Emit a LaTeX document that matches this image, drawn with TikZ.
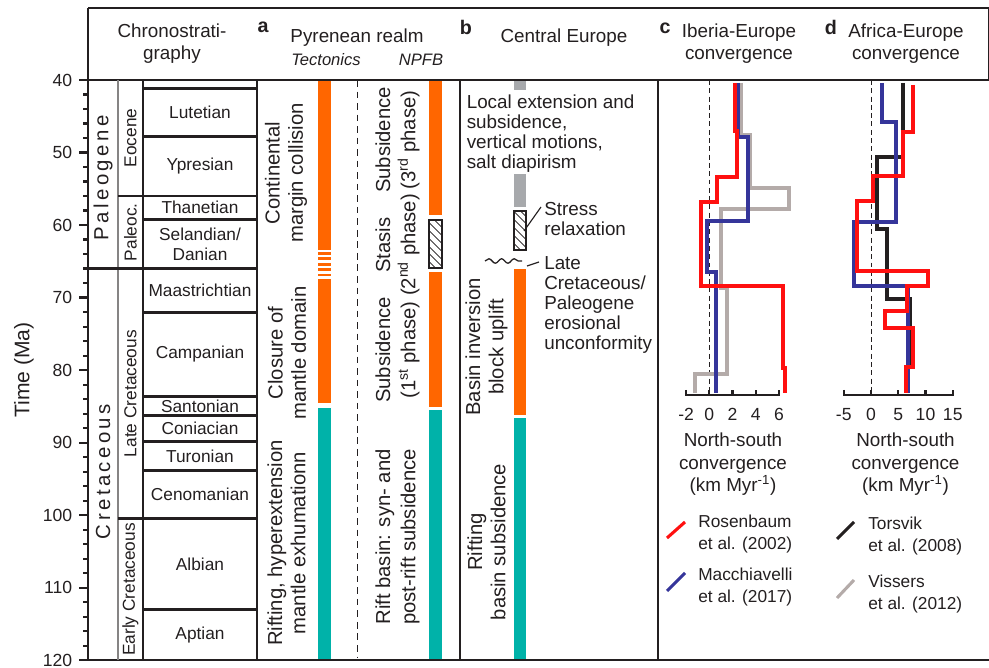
\documentclass[tikz,border=0pt]{standalone}
\usepackage{fontspec}
\setmainfont{Liberation Sans}
\usetikzlibrary{patterns.meta,decorations.pathmorphing}

\definecolor{tecorange}{HTML}{FF6600}
\definecolor{riftteal}{HTML}{00B2A9}
\definecolor{localgray}{HTML}{A7A9AC}
\definecolor{ink}{HTML}{231F20}
\definecolor{rosred}{HTML}{FF1010}
\definecolor{macblue}{HTML}{35359A}
\definecolor{visgray}{HTML}{B4ABA9}

\begin{document}
\begin{tikzpicture}[x=0.025cm,y=-0.025cm,
    every node/.style={text=ink,inner sep=0pt},
    frame/.style={draw=ink,line width=2pt},
    divider/.style={draw=ink!55,line width=1pt},
    zero/.style={draw=ink,line width=0.7pt,dash pattern=on 3.5pt off 2.4pt},
    curve/.style={line width=2.2pt},
    hatchbox/.style={draw=ink,line width=0.8pt,pattern color=ink,
      pattern={Lines[angle=-45,distance=4pt,line width=0.6pt]}},
    hdr/.style={font=\fontsize{13.4}{15.6}\selectfont,align=center},
    sub/.style={font=\fontsize{11.8}{14}\selectfont\itshape},
    panel/.style={font=\fontsize{14}{16}\selectfont\bfseries},
    stage/.style={font=\fontsize{12.3}{14.2}\selectfont,align=center},
    epoch/.style={font=\fontsize{12.3}{14.2}\selectfont,rotate=90},
    period/.style={font=\fontsize{14.5}{16}\selectfont,rotate=90},
    rot/.style={font=\fontsize{14.4}{16.4}\selectfont,align=center,rotate=90},
    rotwide/.style={rot,font=\fontsize{14.4}{17.8}\selectfont},
    note/.style={font=\fontsize{13.4}{14.2}\selectfont,align=left,anchor=north west},
    lgd/.style={font=\fontsize{12.3}{15.4}\selectfont,align=left,anchor=north west},
    tick/.style={font=\fontsize{12.5}{14}\selectfont}]

  \useasboundingbox (0,0) rectangle (989,668);

  \fill[tecorange] (318,80) rectangle (331,250);
  \foreach \a/\b in {252/255,257.5/260.5,263/266,268.5/271.5,274/276.5}
    \fill[tecorange] (318,\a) rectangle (331,\b);
  \fill[tecorange] (318,279) rectangle (331,403);
  \fill[riftteal] (318,408) rectangle (331,660);
  \draw[zero,dash pattern=on 4.7pt off 3.5pt] (357,80) -- (357,657);

  \fill[tecorange] (429,80) rectangle (442,215);
  \draw[hatchbox] (429,220) rectangle (442,268);
  \fill[tecorange] (429,272) rectangle (442,407);
  \fill[riftteal] (429,410) rectangle (442,660);

  \fill[localgray] (514,80) rectangle (526,90);
  \fill[localgray] (514,174) rectangle (526,207);
  \draw[hatchbox] (514,211) rectangle (526,250);
  \fill[tecorange] (514,269) rectangle (526,415);
  \fill[riftteal] (514,418) rectangle (526,660);

  \draw[ink,line width=1.3pt] (88,8) -- (988.5,8) -- (988.5,80);
  \draw[frame] (88,8) -- (88,660);
  \draw[frame] (88,80) -- (989,80);
  \draw[frame] (88,660) -- (989,660);
  \foreach \x in {143,257,460,658} \draw[frame] (\x,80) -- (\x,660);
  \draw[divider] (118,80) -- (118,660);

  \begin{scope}[y=-0.18125cm,yshift=5.25cm]
    \foreach \t in {42,44,...,118} \draw[ink,line width=1.5pt] (83,\t) -- (88,\t);
    \foreach \t in {40,50,...,120} {
      \draw[ink,line width=1.5pt] (79,\t) -- (88,\t);
      \node[tick,anchor=east] (ma\t) at (72.5,\t) {\t};
    }
    \foreach \t in {41.2,47.8,59.2,72.1,83.6,86.3,89.8,93.9,113}
      \draw[frame] (143,\t) -- (257,\t);
    \foreach \t in {56,100.5} \draw[frame] (118,\t) -- (257,\t);
    \draw[frame] (88,66) -- (257,66);
    \foreach \name/\t/\txt in {lutetian/44.5/Lutetian, ypresian/51.9/Ypresian,
        thanetian/57.6/Thanetian, maastrichtian/69.05/Maastrichtian,
        campanian/77.85/Campanian, santonian/84.95/Santonian,
        coniacian/88.05/Coniacian, turonian/91.85/Turonian,
        cenomanian/97.2/Cenomanian, albian/106.75/Albian, aptian/116.5/Aptian}
      \node[stage] (\name) at (200,\t) {\txt};
    \node[stage] (danian) at (200,62.6) {Selandian/\\Danian};
    \node[epoch] (eocene) at (130.5,48) {Eocene};
    \node[epoch] (paleocene) at (130.5,61) {Paleoc.};
    \node[epoch] (latecret) at (130.5,83.25) {Late Cretaceous};
    \node[epoch] (earlycret) at (130.5,110.25) {Early Cretaceous};
    \node[period] (paleogene) at (103,53.5) {P\,a\,l\,e\,o\,g\,e\,n\,e};
    \node[period] (cretaceous) at (103,94) {C\,r\,e\,t\,a\,c\,e\,o\,u\,s};
  \end{scope}
  \node[rot,font=\fontsize{15}{17}\selectfont] (timeaxis) at (24,370) {Time (Ma)};

  \node[hdr] (chrono) at (172,44) {Chronostrati-\\graphy};
  \node[panel] (pa) at (263,27) {a};
  \node[hdr] (pyrenees) at (357,38) {Pyrenean realm};
  \node[sub] (tectonics) at (326,60) {Tectonics};
  \node[sub] (npfb) at (421,60) {NPFB};
  \node[panel] (pb) at (466,27) {b};
  \node[hdr] (centraleu) at (564,38) {Central Europe};
  \node[panel] (pc) at (665,28) {c};
  \node[hdr] (iberia) at (739,44) {Iberia-Europe\\convergence};
  \node[panel] (pd) at (831,27) {d};
  \node[hdr] (africa) at (906,44) {Africa-Europe\\convergence};

  \node[rot] (collision) at (286,173) {Continental\\margin collision};
  \node[rot] (closure) at (287,353) {Closure of\\mantle domain};
  \node[rot] (hyperext) at (286.5,543) {Rifting, hyperextension\\mantle exhumationn};
  \node[rotwide] (subthree) at (397.5,140) {Subsidence\\(3\textsuperscript{rd} phase)};
  \node[rotwide] (stasis) at (397.5,245) {Stasis\\(2\textsuperscript{nd} phase)};
  \node[rotwide] (subone) at (397.5,350) {Subsidence\\(1\textsuperscript{st} phase)};
  \node[rotwide] (riftbasin) at (397.5,537) {Rift basin: syn- and\\post-rift subsidence};
  \node[rot] (inversion) at (486.5,347) {Basin inversion\\block uplift};
  \node[rot] (basinsub) at (486.5,542) {Rifting\\basin subsidence};

  \node[note] (localext) at (466.5,95) {Local extension and\\subsidence,\\vertical motions,\\salt diapirism};
  \node[note] (stress) at (544,202) {Stress\\relaxation};
  \node[note] (unconf) at (544,256) {Late\\Cretaceous/\\Paleogene\\erosional\\unconformity};
  \coordinate (hatchtip) at (524,231);
  \coordinate (stresstip) at (541,207);
  \draw[ink,line width=0.8pt] (hatchtip) -- (stresstip);
  \coordinate (wavea) at (485,261);
  \coordinate (waveb) at (522,261);
  \draw[ink,line width=0.9pt,decorate,decoration={snake,amplitude=1.6pt,segment length=9pt}] (wavea) -- (waveb);
  \coordinate (wavetip) at (527,266);
  \coordinate (latetip) at (539,262);
  \draw[ink,line width=0.8pt] (wavetip) -- (latetip);

  \draw[zero] (709.3,80) -- (709.3,395);
  \draw[zero] (871,80) -- (871,395);
  \draw[curve,visgray] (741,83) -- (741,135) -- (750,135) -- (750,188) -- (789,188) -- (789,209)
    -- (721,209) -- (721,288) -- (727,288) -- (727,374) -- (695,374) -- (695,393);
  \draw[curve,macblue] (738,83) -- (738,137) -- (748,137) -- (748,221) -- (707,221) -- (707,272)
    -- (716,272) -- (716,393);
  \draw[curve,rosred] (735,83) -- (735,131) -- (737,131) -- (737,177) -- (717,177) -- (717,202)
    -- (701,202) -- (701,286) -- (783,286) -- (783,368) -- (785,368) -- (785,393);
  \draw[curve,ink] (903,83) -- (903,157) -- (877,157) -- (877,229) -- (887,229) -- (887,299)
    -- (910,299) -- (910,368);
  \draw[curve,macblue] (882,83) -- (882,122) -- (896,122) -- (896,222) -- (854,222) -- (854,286)
    -- (908,286) -- (908,393);
  \draw[curve,rosred] (913,85) -- (913,132) -- (903,132) -- (903,176) -- (873,176) -- (873,201)
    -- (857,201) -- (857,271) -- (928,271) -- (928,286) -- (907,286) -- (907,311) -- (885,311)
    -- (885,328) -- (913,328) -- (913,367) -- (906,367) -- (906,393);

  \draw[ink,line width=1.5pt] (686.1,390) -- (686.1,395) -- (778.9,395) -- (778.9,390);
  \foreach \v in {-2,0,...,6} {
    \draw[ink,line width=1.5pt] ({709.3+11.6*\v},395) -- ++(0,-5);
    \node[tick,anchor=north] (cv\v) at ({709.3+11.6*\v},408) {\v};
  }
  \draw[ink,line width=1.5pt] (843.75,390) -- (843.75,395) -- (952.75,395) -- (952.75,390);
  \foreach \v in {-5,0,...,15} {
    \draw[ink,line width=1.5pt] ({871+5.45*\v},395) -- ++(0,-5);
    \node[tick,anchor=north] (dv\v) at ({871+5.45*\v},408) {\v};
  }
  \node[hdr,font=\fontsize{13.4}{16}\selectfont,anchor=north] (nsc) at (733,433)
    {North-south\\convergence\\(km Myr\textsuperscript{-1})};
  \node[hdr,font=\fontsize{13.4}{16}\selectfont,anchor=north] (nsd) at (905.5,433)
    {North-south\\convergence\\(km Myr\textsuperscript{-1})};

  \coordinate (rosa) at (667,538); \coordinate (rosb) at (685,522);
  \coordinate (maca) at (667,591); \coordinate (macb) at (685,573);
  \coordinate (tora) at (837,539); \coordinate (torb) at (854,522);
  \coordinate (visa) at (837,598); \coordinate (visb) at (854,580);
  \draw[curve,rosred] (rosa) -- (rosb);
  \draw[curve,macblue] (maca) -- (macb);
  \draw[curve,ink] (tora) -- (torb);
  \draw[curve,visgray] (visa) -- (visb);
  \node[lgd] (rosenbaum) at (698,515) {Rosenbaum\\et al. (2002)};
  \node[lgd] (macchiavelli) at (698,568) {Macchiavelli\\et al. (2017)};
  \node[lgd] (torsvik) at (868,517) {Torsvik\\et al. (2008)};
  \node[lgd] (vissers) at (868,575) {Vissers\\et al. (2012)};
\end{tikzpicture}
\end{document}
